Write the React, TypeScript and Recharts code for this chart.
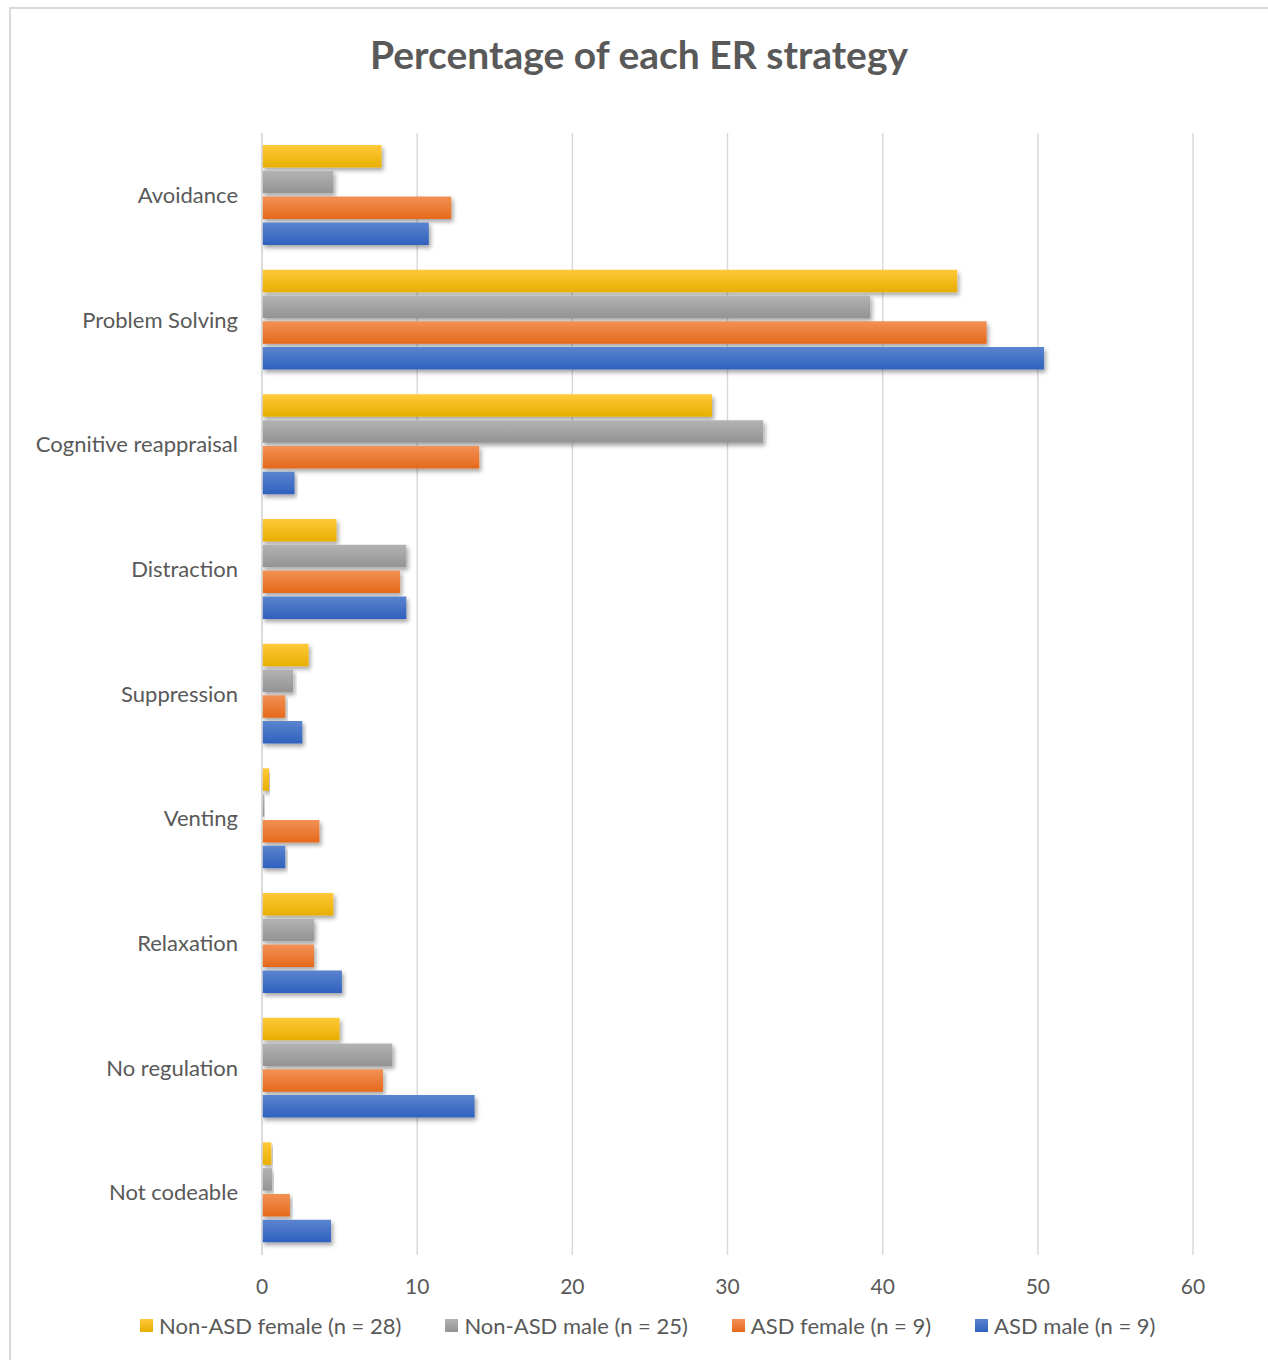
import React from "react";
import { BarChart, Bar, XAxis, YAxis, CartesianGrid } from "recharts";

const strategies = [
  "Avoidance",
  "Problem Solving",
  "Cognitive reappraisal",
  "Distraction",
  "Suppression",
  "Venting",
  "Relaxation",
  "No regulation",
  "Not codeable",
];

const nonAsdFemale = [7.7, 44.8, 29.0, 4.8, 3.0, 0.45, 4.6, 5.0, 0.6];
const nonAsdMale = [4.6, 39.2, 32.3, 9.3, 2.0, 0.15, 3.35, 8.4, 0.65];
const asdFemale = [12.2, 46.7, 14.0, 8.9, 1.5, 3.7, 3.35, 7.8, 1.8];
const asdMale = [10.75, 50.4, 2.1, 9.3, 2.6, 1.5, 5.15, 13.7, 4.45];

const xTicks = [0, 10, 20, 30, 40, 50, 60];

const series = [
  { key: "nonAsdFemale", label: "Non-ASD female (n = 28)", top: "#ffc93a", bottom: "#e8ae00" },
  { key: "nonAsdMale", label: "Non-ASD male (n = 25)", top: "#b3b3b3", bottom: "#939393" },
  { key: "asdFemale", label: "ASD female (n = 9)", top: "#f29155", bottom: "#e5691b" },
  { key: "asdMale", label: "ASD male (n = 9)", top: "#5b84cf", bottom: "#2f61bd" },
];

const data = strategies.map((name, i) => ({
  name,
  nonAsdFemale: nonAsdFemale[i],
  nonAsdMale: nonAsdMale[i],
  asdFemale: asdFemale[i],
  asdMale: asdMale[i],
}));

const FONT = "Lato, 'Open Sans', sans-serif";
const TEXT = "#595959";

export default function App() {
  return (
    <div
      style={{
        position: "absolute",
        left: 0,
        top: 0,
        width: 1268,
        height: 1360,
        overflow: "hidden",
        background: "#fff",
        fontFamily: FONT,
      }}
    >
      {/* chart frame, runs off the right and bottom edge */}
      <div
        style={{
          position: "absolute",
          left: 9,
          top: 7,
          width: 1280,
          height: 1380,
          border: "2px solid #d9d9d9",
          boxSizing: "border-box",
        }}
      />
      <div
        style={{
          position: "absolute",
          left: 0,
          top: 31,
          width: 1278,
          textAlign: "center",
          fontSize: 39,
          fontWeight: 700,
          color: TEXT,
        }}
      >
        Percentage of each ER strategy
      </div>
      <div style={{ position: "absolute", left: 0, top: 0 }}>
        <BarChart
          width={1268}
          height={1360}
          data={data}
          layout="vertical"
          margin={{ top: 133, right: 75, left: 0, bottom: 45 }}
          barSize={22.5}
          barGap={3.3}
        >
          <defs>
            {series.map((s) => (
              <linearGradient key={s.key} id={`grad-${s.key}`} x1="0" y1="0" x2="0" y2="1">
                <stop offset="0%" stopColor={s.top} />
                <stop offset="100%" stopColor={s.bottom} />
              </linearGradient>
            ))}
            <filter id="barShadow" x="-5%" y="-30%" width="115%" height="180%">
              <feDropShadow dx="2" dy="3" stdDeviation="2" floodColor="#000" floodOpacity="0.35" />
            </filter>
          </defs>
          <CartesianGrid horizontal={false} stroke="#d9d9d9" strokeWidth={1.5} />
          <XAxis
            type="number"
            domain={[0, 60]}
            ticks={xTicks}
            axisLine={false}
            tickLine={false}
            tick={{ fontSize: 21, fill: TEXT, fontFamily: FONT }}
            tickMargin={18}
            height={60}
          />
          <YAxis
            type="category"
            dataKey="name"
            width={262}
            axisLine={{ stroke: "#d9d9d9", strokeWidth: 1.5 }}
            tickLine={false}
            tick={{ fontSize: 22, fill: TEXT, fontFamily: FONT }}
            tickMargin={18}
          />
          {series.map((s) => (
            <Bar
              key={s.key}
              dataKey={s.key}
              name={s.label}
              fill={`url(#grad-${s.key})`}
              filter="url(#barShadow)"
              isAnimationActive={false}
            />
          ))}
        </BarChart>
      </div>
      <div
        style={{
          position: "absolute",
          left: 140,
          top: 1312,
          display: "flex",
          gap: 44,
          fontSize: 22,
          color: TEXT,
          whiteSpace: "nowrap",
        }}
      >
        {series.map((s) => (
          <div key={s.key} style={{ display: "flex", alignItems: "center", gap: 6 }}>
            <span
              style={{
                display: "inline-block",
                width: 13,
                height: 13,
                background: `linear-gradient(${s.top}, ${s.bottom})`,
              }}
            />
            <span>{s.label}</span>
          </div>
        ))}
      </div>
    </div>
  );
}
